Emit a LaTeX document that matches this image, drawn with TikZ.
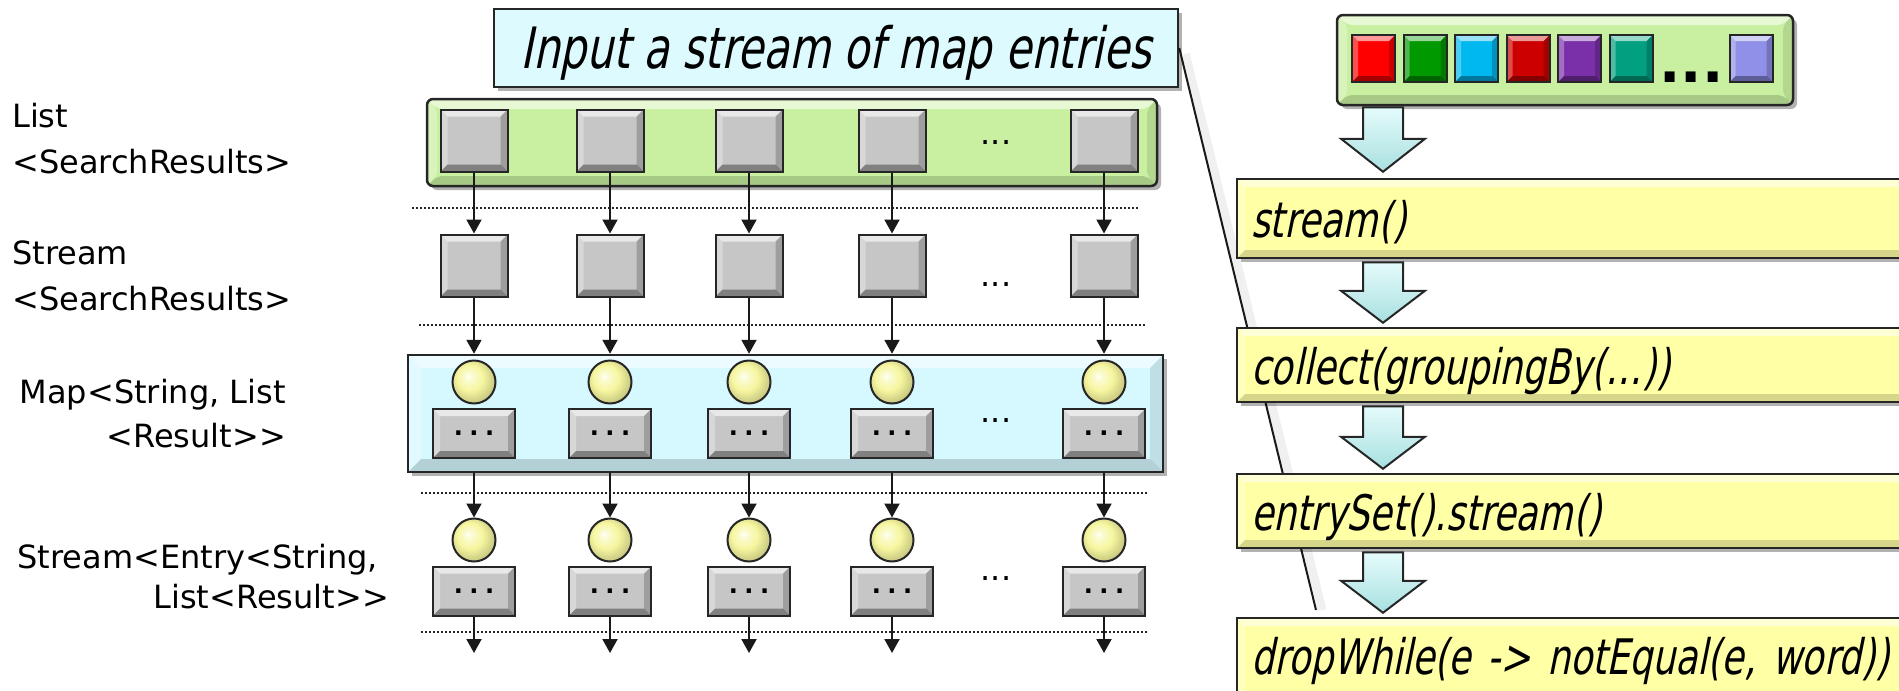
\documentclass[tikz,border=0pt]{standalone}
\usepackage{fontspec}
\setmainfont{DejaVu Sans}
\setmonofont{DejaVu Sans Mono}
\newfontfamily\condit[FakeStretch=0.74,FakeSlant=0.2]{DejaVu Sans}
\usetikzlibrary{shadows,arrows.meta,calc}

\definecolor{listgreen}{HTML}{C8F0A0}
\definecolor{mapblue}{HTML}{D6F8FF}
\definecolor{callblue}{HTML}{DDFBFF}
\definecolor{boxyellow}{HTML}{FFFFA6}
\definecolor{sqgray}{HTML}{C6C6C6}
\definecolor{ballyel}{HTML}{F6F6A0}
\definecolor{arrcyan}{HTML}{C4F6F6}
\definecolor{cRed}{HTML}{FF0000}
\definecolor{cGreen}{HTML}{009A00}
\definecolor{cCyan}{HTML}{00B8F0}
\definecolor{cDRed}{HTML}{CC0000}
\definecolor{cPurple}{HTML}{7A30A8}
\definecolor{cTeal}{HTML}{00A080}
\definecolor{cLav}{HTML}{9090E8}

\pgfdeclareradialshading{yball}{\pgfpoint{-7bp}{7bp}}{color(0bp)=(white); color(4bp)=(ballyel!45!white); color(15bp)=(ballyel); color(27bp)=(ballyel!82!black); color(50bp)=(ballyel!65!black)}

\tikzset{
  bevel/.style={path picture={
    \path (path picture bounding box.north west) coordinate (bvA)
          (path picture bounding box.south east) coordinate (bvC);
    \fill[white,opacity=.6] (bvA) -- (bvA -| bvC) -- ($(bvA -| bvC)+(-#1,#1)$) -- ($(bvA)+(#1,#1)$) -- cycle;
    \fill[white,opacity=.3] (bvA) -- (bvC -| bvA) -- ($(bvC -| bvA)+(#1,-#1)$) -- ($(bvA)+(#1,#1)$) -- cycle;
    \fill[black,opacity=.2] (bvA -| bvC) -- (bvC) -- ($(bvC)+(-#1,-#1)$) -- ($(bvA -| bvC)+(-#1,#1)$) -- cycle;
    \fill[black,opacity=.35] (bvC -| bvA) -- (bvC) -- ($(bvC)+(-#1,-#1)$) -- ($(bvC -| bvA)+(#1,-#1)$) -- cycle;
  }},
  bevel/.default=7,
  softbevel/.style={path picture={
    \path (path picture bounding box.north west) coordinate (bvA)
          (path picture bounding box.south east) coordinate (bvC);
    \fill[white,opacity=.55] (bvA) -- (bvA -| bvC) -- ($(bvA -| bvC)+(-#1,#1)$) -- ($(bvA)+(#1,#1)$) -- cycle;
    \fill[white,opacity=.3] (bvA) -- (bvC -| bvA) -- ($(bvC -| bvA)+(#1,-#1)$) -- ($(bvA)+(#1,#1)$) -- cycle;
    \fill[black,opacity=.1] (bvA -| bvC) -- (bvC) -- ($(bvC)+(-#1,-#1)$) -- ($(bvA -| bvC)+(-#1,#1)$) -- cycle;
    \fill[black,opacity=.16] (bvC -| bvA) -- (bvC) -- ($(bvC)+(-#1,-#1)$) -- ($(bvC -| bvA)+(#1,-#1)$) -- cycle;
  }},
  softbevel/.default=10,
  box/.style={draw=black!85, line width=2.5pt, inner sep=0pt,
    drop shadow={shadow xshift=4pt, shadow yshift=-4pt, opacity=.3, fill=black}},
  sq/.style={draw=black!85, line width=2pt, fill=sqgray, minimum width=67pt,
    minimum height=62pt, inner sep=0pt, bevel=7},
  dotbox/.style={sq, minimum width=82pt, minimum height=49pt,
    font=\ttfamily\bfseries\fontsize{26}{26}\selectfont},
  ball/.style={circle, draw=black!85, line width=2pt, minimum size=43pt,
    inner sep=0pt, shading=yball},
  csq/.style={draw=black!85, line width=2pt, minimum width=43pt,
    minimum height=47pt, inner sep=0pt, bevel=6},
  lab/.style={inner sep=0pt, font=\fontsize{32}{32}\selectfont},
  ell/.style={inner sep=0pt, anchor=base, font=\fontsize{32}{32}\selectfont},
  flow/.style={line width=2pt, black!90, -{Triangle[width=15pt,length=14pt]}},
  sepline/.style={line width=1.5pt, black!85, dash pattern=on 2pt off 2pt},
  ybox/.style={box, fill=boxyellow, softbevel=8, minimum width=683pt, minimum height=74pt,
    text width=655pt, inner xsep=14pt, align=left, text height=45pt, text depth=7pt,
    font=\condit\fontsize{49}{49}\selectfont},
  blockarr/.style={draw=black!85, line width=2pt, line join=miter,
    top color=arrcyan!45!white, bottom color=arrcyan!75!teal!80},
}

\begin{document}
\begin{tikzpicture}[x=1pt,y=-1pt]
\useasboundingbox (0,0) rectangle (1899,691);
\clip (0,0) rectangle (1899,691);

% left labels
\node[lab, anchor=base west] (t1a) at (12,127) {List};
\node[lab, anchor=base west] (t1b) at (12,173) {<SearchResults>};
\node[lab, anchor=base west] (t2a) at (12,264) {Stream};
\node[lab, anchor=base west] (t2b) at (12,310) {<SearchResults>};
\node[lab, anchor=base east] (t3a) at (286,403) {Map<String, List};
\node[lab, anchor=base east] (t3b) at (286,447) {<Result>{}>};
\node[lab, anchor=base east] (t4a) at (378,568) {Stream<Entry<String,};
\node[lab, anchor=base east] (t4b) at (389,608) {List<Result>{}>};

% containers
\node[box, fill=listgreen, rounded corners=6pt, softbevel=10, minimum width=730pt, minimum height=87pt] (listbox) at (792,142.5) {};
\node[box, fill=mapblue, softbevel=13, minimum width=755pt, minimum height=117pt] (mapbox) at (785.5,413.5) {};

% separators
\draw[sepline] (412,208) -- (1138,208);
\draw[sepline] (419,325) -- (1146,325);
\draw[sepline] (421,493) -- (1148,493);
\draw[sepline] (421,632) -- (1148,632);

% elements
\foreach \i/\x in {1/474,2/610,3/749,4/892,5/1104}{
  \node[sq] (L\i) at (\x,140.5) {};
  \node[sq] (S\i) at (\x,265.5) {};
  \node[ball] (C\i) at (\x,382) {};
  \node[dotbox] (R\i) at (\x,433.5) {...};
  \node[ball] (D\i) at (\x,540) {};
  \node[dotbox] (E\i) at (\x,591) {...};
  \coordinate (B\i) at (\x,653);
}
\node[ell] (el1) at (996,144) {...};
\node[ell] (el2) at (996,286) {...};
\node[ell] (el3) at (996,422) {...};
\node[ell] (el4) at (996,580) {...};

\foreach \i in {1,...,5}{
  \draw[flow] (L\i) -- (S\i);
  \draw[flow] (S\i) -- (S\i |- mapbox.north);
  \draw[flow] (D\i |- mapbox.south) -- (D\i);
  \draw[flow] (E\i) -- (B\i);
}

% callout
\node[box, fill=callblue, minimum width=684pt, minimum height=78pt, text height=46pt, text depth=6pt,
  font=\condit\fontsize{57}{57}\selectfont] (callout) at (836,48) {Input a stream of map entries};
\coordinate (cend) at (1316,610);
\draw[black!6, line width=9pt] ([xshift=6pt,yshift=-6pt]callout.east) -- ([xshift=6pt]cend);
\draw[line width=2pt, black!90] (callout.east) -- (cend);

% right side
\node[box, fill=listgreen, rounded corners=6pt, softbevel=10, minimum width=456pt, minimum height=90pt] (arraybox) at (1565,60) {};
\foreach \i/\x/\c in {1/1373.5/cRed,2/1425/cGreen,3/1476.5/cCyan,4/1528/cDRed,5/1579.5/cPurple,6/1631/cTeal,7/1751/cLav}{
  \node[csq, fill=\c] (Q\i) at (\x,58.5) {};
}
\node[inner sep=0pt, anchor=base, font=\bfseries\fontsize{56}{56}\selectfont] (qd) at (1691.5,82) {...};

\node[ybox, minimum height=79pt, text height=44pt] (y1) at (1578.5,218.5) {stream()};
\node[ybox] (y2) at (1578.5,365) {collect(groupingBy(…))};
\node[ybox] (y3) at (1578.5,511) {entrySet().stream()};
\node[ybox, minimum height=82pt, text height=37pt] (y4) at (1578.5,659) {dropWhile(e -> notEqual(e, word))};

\path[blockarr] let \p1=(arraybox.south), \p2=(y1.north) in
  (1363pt,\y1-1pt) -- (1403pt,\y1-1pt) -- (1403pt,\y2+39pt) -- (1425pt,\y2+39pt) -- (1383pt,\y2+6pt)
  -- (1341pt,\y2+39pt) -- (1363pt,\y2+39pt) -- cycle;
\path[blockarr] let \p1=(y1.south), \p2=(y2.north) in
  (1363pt,\y1-3pt) -- (1403pt,\y1-3pt) -- (1403pt,\y2+36pt) -- (1425pt,\y2+36pt) -- (1383pt,\y2+4pt)
  -- (1341pt,\y2+36pt) -- (1363pt,\y2+36pt) -- cycle;
\path[blockarr] let \p1=(y2.south), \p2=(y3.north) in
  (1363pt,\y1-3pt) -- (1403pt,\y1-3pt) -- (1403pt,\y2+36pt) -- (1425pt,\y2+36pt) -- (1383pt,\y2+4pt)
  -- (1341pt,\y2+36pt) -- (1363pt,\y2+36pt) -- cycle;
\path[blockarr] let \p1=(y3.south), \p2=(y4.north) in
  (1363pt,\y1-3pt) -- (1403pt,\y1-3pt) -- (1403pt,\y2+36pt) -- (1425pt,\y2+36pt) -- (1383pt,\y2+4pt)
  -- (1341pt,\y2+36pt) -- (1363pt,\y2+36pt) -- cycle;
\end{tikzpicture}
\end{document}
